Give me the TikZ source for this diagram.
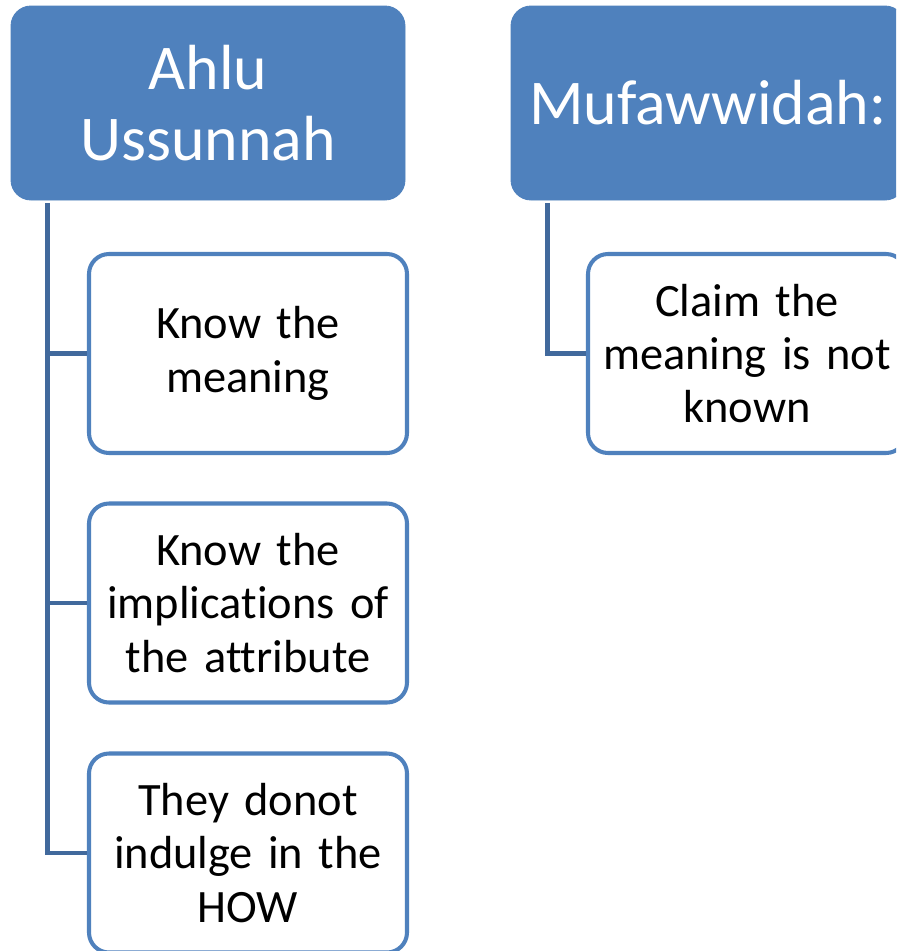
\documentclass[tikz,border=0pt]{standalone}
\usepackage{fontspec}
\setmainfont{Carlito}[Ligatures={NoCommon}, WordSpace=0.85]
\usetikzlibrary{calc}
\definecolor{hdrblue}{HTML}{4F81BD}
\definecolor{linkblue}{HTML}{41699C}
\tikzset{
	header/.style={rectangle, rounded corners=0.4cm, fill=hdrblue, draw=hdrblue, line width=0.5pt, text=white, align=center, inner xsep=0pt, text width=7.7cm, minimum width=7.88cm, minimum height=3.88cm, font=\fontsize{36.3}{40}\selectfont},
	item/.style={rectangle, rounded corners=0.4cm, fill=white, draw=hdrblue, line width=2.3pt, text=black, align=center, inner xsep=0pt, text width=6.3cm, minimum width=6.36cm, minimum height=3.98cm, font=\fontsize{26.4}{30.4}\selectfont},
	link/.style={draw=linkblue, line width=2.4pt}
}
\begin{document}
\begin{tikzpicture}
			%%%%% START %%%%%
			\useasboundingbox (0, -19.02) rectangle (17.92, 0);
			\clip (0, -19.02) rectangle (17.92, 0);
			\fill[white] (0, -19.02) rectangle (17.92, 0);
			
			% left column
			\node[header] (ahlu) at (4.16, -2.06) {Ahlu\\Ussunnah};
			\node[item] (know) at (4.96, -7.07) {Know the\\meaning};
			\node[item] (impl) at (4.96, -12.06) {Know the\\implications of\\the attribute};
			\node[item] (how) at (4.96, -17.06) {They donot\\indulge in the\\HOW};
			
			% right column
			\node[header] (muf) at (14.16, -2.06) {Mufawwidah:};
			\node[item] (claim) at (14.94, -7.07) {Claim the\\meaning is not\\known};
			
			\draw[link] ([xshift=0.74cm, yshift=-0.06cm]ahlu.south west) |- (know.west);
			\draw[link] ([xshift=0.74cm, yshift=-0.06cm]ahlu.south west) |- (impl.west);
			\draw[link] ([xshift=0.74cm, yshift=-0.06cm]ahlu.south west) |- (how.west);
			\draw[link] ([xshift=0.74cm, yshift=-0.06cm]muf.south west) |- (claim.west);
			
			%%%%% END %%%%%
\end{tikzpicture}
\end{document}
